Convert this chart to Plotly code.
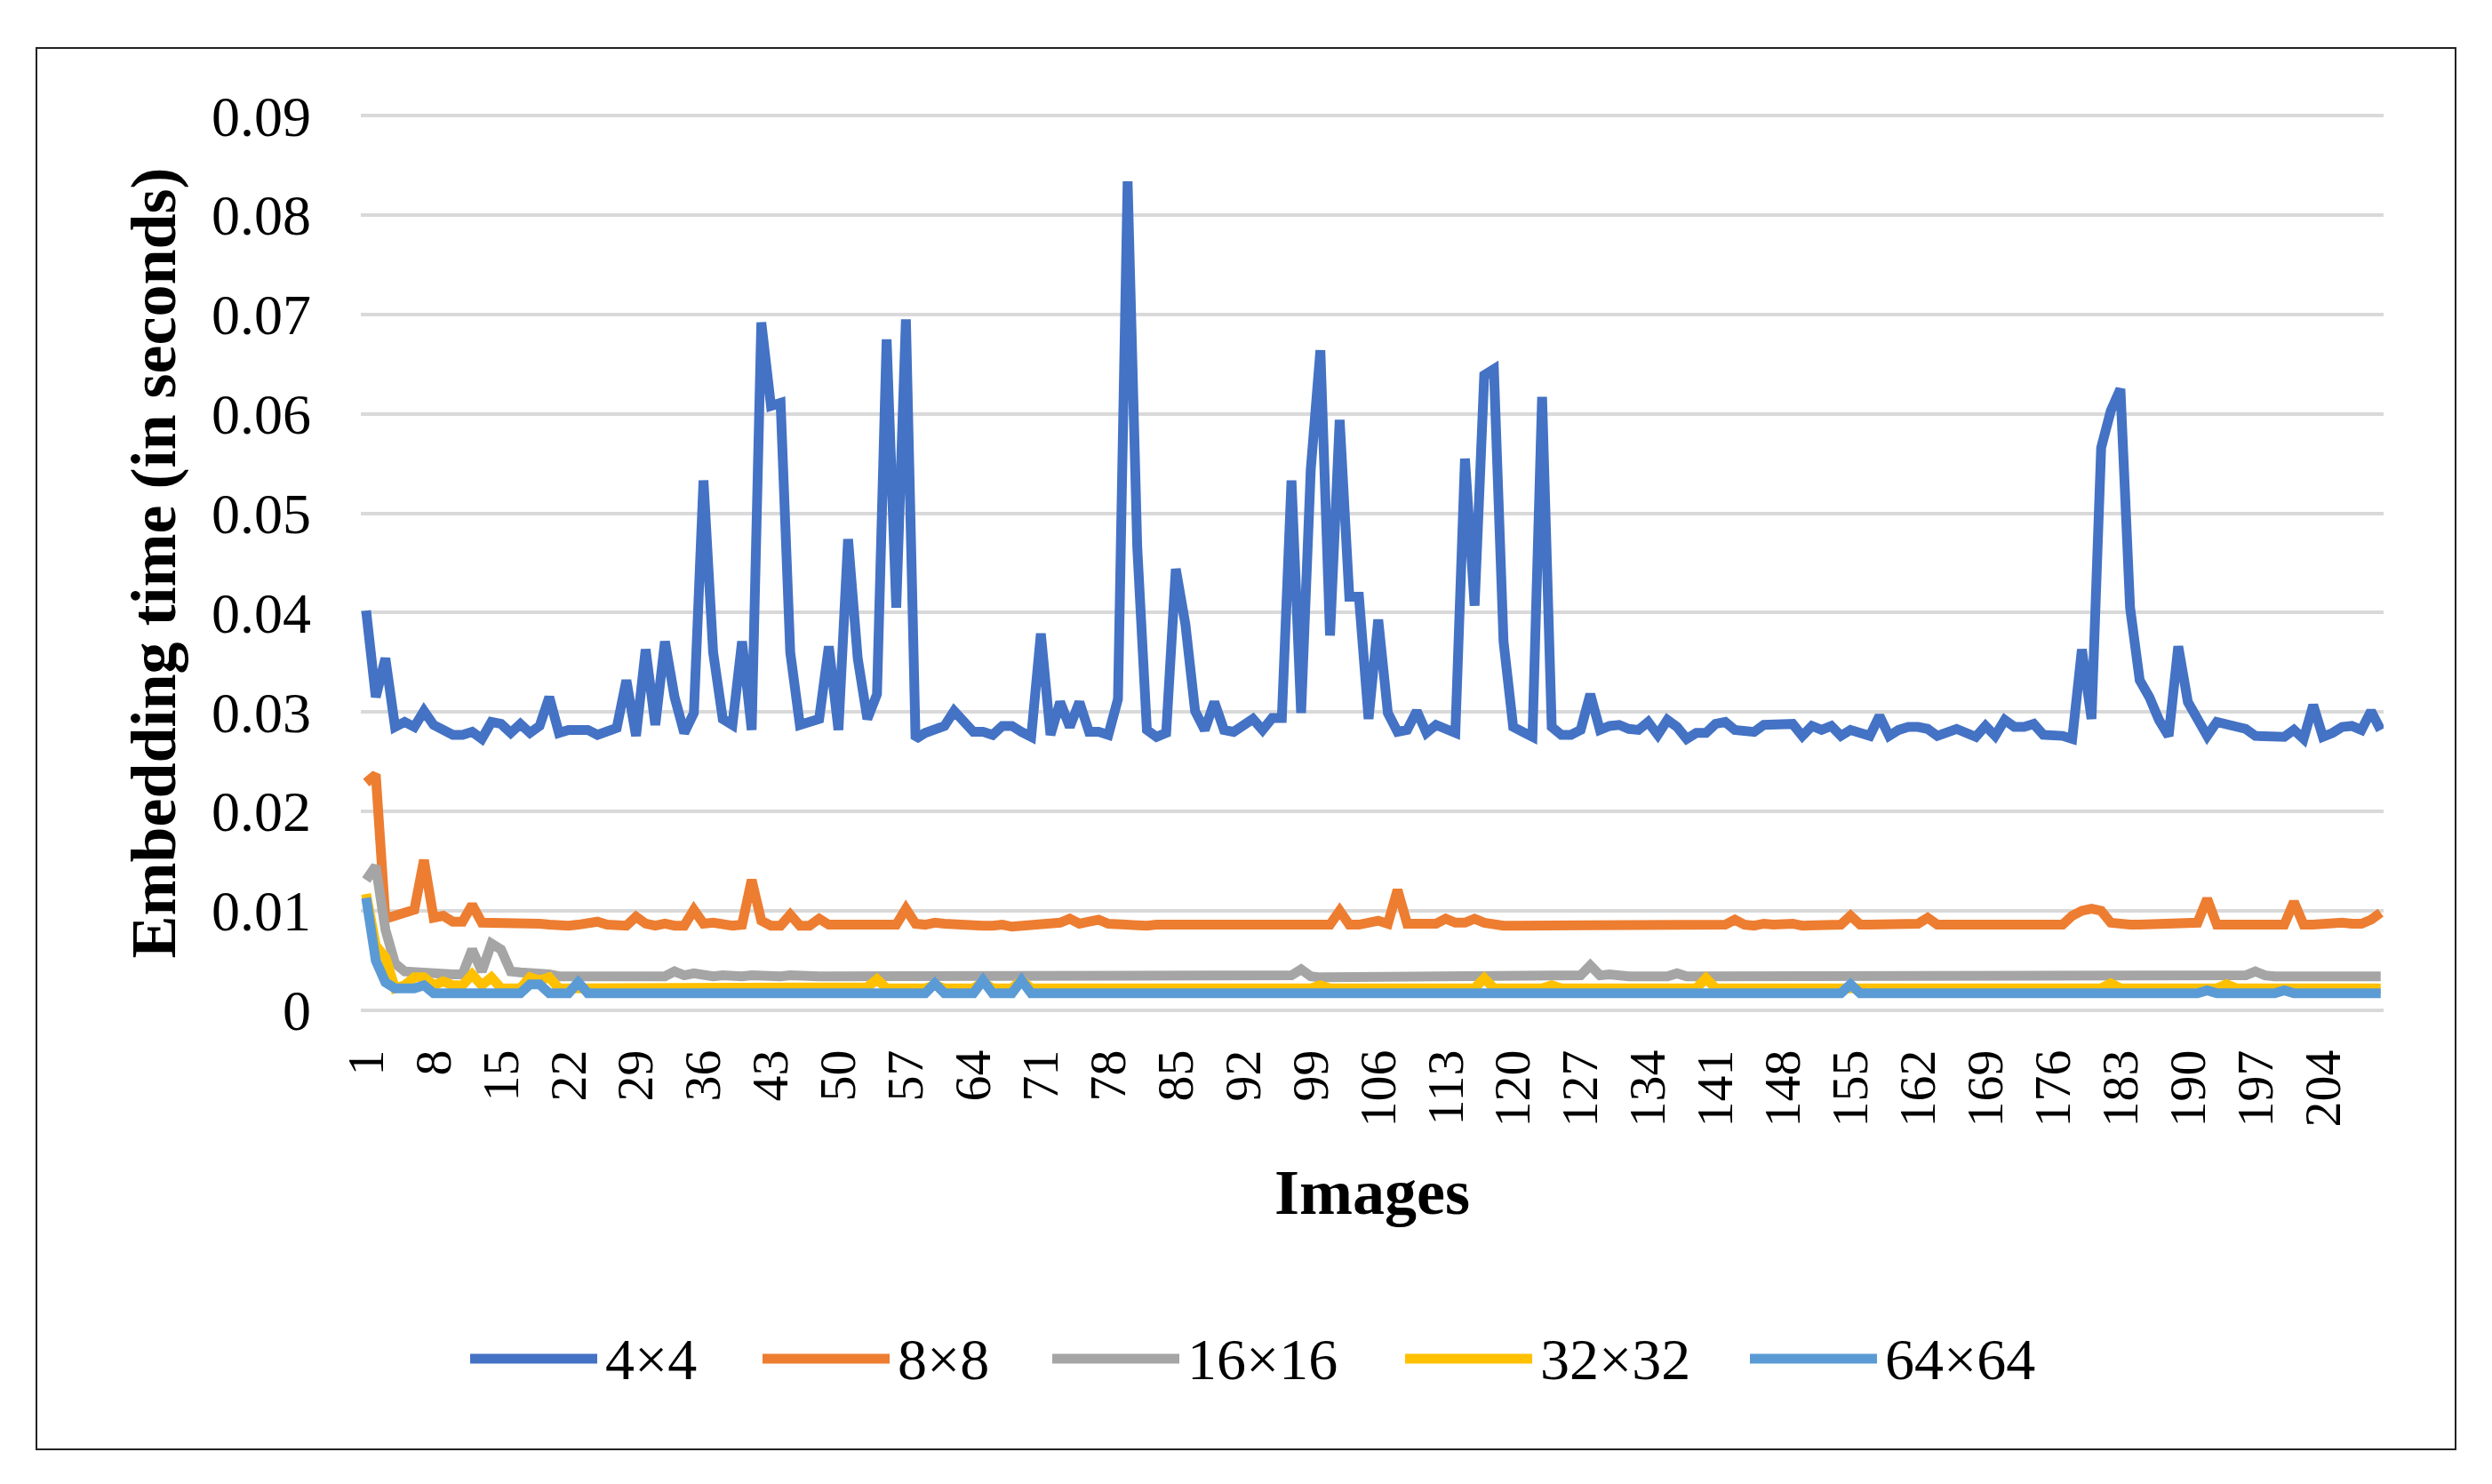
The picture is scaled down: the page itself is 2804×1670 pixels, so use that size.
import plotly.graph_objects as go

images = list(range(1, 211))
series_names = ["4×4", "8×8", "16×16", "32×32", "64×64"]
colors = ["#4472C4", "#ED7D31", "#A5A5A5", "#FFC000", "#5B9BD5"]

x_tick_labels = [1, 8, 15, 22, 29, 36, 43, 50, 57, 64, 71, 78, 85, 92, 99, 106, 113, 120, 127,
                 134, 141, 148, 155, 162, 169, 176, 183, 190, 197, 204]
y_tick_values = [0, 0.01, 0.02, 0.03, 0.04, 0.05, 0.06, 0.07, 0.08, 0.09]
y_tick_labels = ["0", "0.01", "0.02", "0.03", "0.04", "0.05", "0.06", "0.07", "0.08", "0.09"]

time_4x4 = [
    0.0402, 0.0315, 0.0354, 0.0285, 0.0290, 0.0285, 0.0301, 0.0287, 0.0282, 0.0277,
    0.0277, 0.0280, 0.0273, 0.0290, 0.0288, 0.0279, 0.0288, 0.0279, 0.0286, 0.0315,
    0.0279, 0.0282, 0.0282, 0.0282, 0.0277, 0.0280, 0.0284, 0.0332, 0.0276, 0.0363,
    0.0287, 0.0371, 0.0315, 0.0279, 0.0299, 0.0533, 0.0360, 0.0293, 0.0287, 0.0371,
    0.0282, 0.0692, 0.0608, 0.0611, 0.0360, 0.0287, 0.0290, 0.0293, 0.0366, 0.0282,
    0.0474, 0.0354, 0.0293, 0.0318, 0.0675, 0.0405, 0.0695, 0.0273, 0.0279, 0.0282,
    0.0286, 0.0301, 0.0290, 0.0280, 0.0280, 0.0277, 0.0286, 0.0286, 0.0280, 0.0275,
    0.0379, 0.0277, 0.0310, 0.0285, 0.0310, 0.0280, 0.0280, 0.0277, 0.0313, 0.0834,
    0.0466, 0.0282, 0.0275, 0.0279, 0.0444, 0.0388, 0.0301, 0.0282, 0.0310, 0.0282,
    0.0280, 0.0286, 0.0293, 0.0282, 0.0294, 0.0294, 0.0533, 0.0299, 0.0544, 0.0664,
    0.0377, 0.0594, 0.0416, 0.0416, 0.0293, 0.0393, 0.0299, 0.0280, 0.0282, 0.0301,
    0.0279, 0.0287, 0.0283, 0.0279, 0.0555, 0.0407, 0.0639, 0.0645, 0.0371, 0.0285,
    0.0280, 0.0275, 0.0617, 0.0285, 0.0277, 0.0277, 0.0282, 0.0318, 0.0282, 0.0286,
    0.0287, 0.0283, 0.0282, 0.0290, 0.0277, 0.0292, 0.0285, 0.0273, 0.0279, 0.0279,
    0.0288, 0.0290, 0.0282, 0.0280, 0.0280, 0.0287, 0.0288, 0.0288, 0.0288, 0.0276,
    0.0286, 0.0282, 0.0286, 0.0276, 0.0282, 0.0279, 0.0276, 0.0296, 0.0276, 0.0282,
    0.0285, 0.0285, 0.0283, 0.0276, 0.0280, 0.0283, 0.0279, 0.0275, 0.0286, 0.0276,
    0.0292, 0.0285, 0.0285, 0.0288, 0.0277, 0.0277, 0.0276, 0.0273, 0.0363, 0.0293,
    0.0566, 0.0603, 0.0625, 0.0405, 0.0332, 0.0315, 0.0292, 0.0276, 0.0366, 0.0310,
    0.0293, 0.0276, 0.0290, 0.0287, 0.0286, 0.0283, 0.0276, 0.0276, 0.0277, 0.0275,
    0.0282, 0.0273, 0.0307, 0.0275, 0.0279, 0.0285, 0.0286, 0.0282, 0.0301, 0.0282,
]

time_8x8 = [
    0.0229, 0.0237, 0.0092, 0.0095, 0.0098, 0.0101, 0.0151, 0.0093, 0.0095, 0.0089,
    0.0089, 0.0106, 0.0088, 0.0088, 0.0089, 0.0089, 0.0089, 0.0088, 0.0087, 0.0086,
    0.0085, 0.0085, 0.0086, 0.0087, 0.0089, 0.0086, 0.0085, 0.0085, 0.0094, 0.0087,
    0.0085, 0.0087, 0.0085, 0.0085, 0.0101, 0.0087, 0.0088, 0.0086, 0.0085, 0.0086,
    0.0131, 0.0090, 0.0085, 0.0085, 0.0096, 0.0085, 0.0085, 0.0092, 0.0086, 0.0086,
    0.0086, 0.0085, 0.0085, 0.0085, 0.0087, 0.0086, 0.0102, 0.0087, 0.0086, 0.0088,
    0.0087, 0.0086, 0.0085, 0.0085, 0.0085, 0.0085, 0.0086, 0.0084, 0.0085, 0.0086,
    0.0087, 0.0088, 0.0088, 0.0092, 0.0087, 0.0089, 0.0091, 0.0087, 0.0086, 0.0086,
    0.0086, 0.0085, 0.0086, 0.0086, 0.0086, 0.0085, 0.0087, 0.0087, 0.0086, 0.0085,
    0.0086, 0.0086, 0.0085, 0.0086, 0.0085, 0.0086, 0.0086, 0.0085, 0.0086, 0.0086,
    0.0086, 0.0100, 0.0086, 0.0086, 0.0087, 0.0090, 0.0087, 0.0121, 0.0087, 0.0087,
    0.0087, 0.0087, 0.0092, 0.0088, 0.0088, 0.0092, 0.0088, 0.0086, 0.0085, 0.0085,
    0.0085, 0.0086, 0.0085, 0.0085, 0.0085, 0.0085, 0.0085, 0.0085, 0.0085, 0.0085,
    0.0086, 0.0086, 0.0086, 0.0085, 0.0085, 0.0085, 0.0085, 0.0085, 0.0087, 0.0086,
    0.0085, 0.0086, 0.0091, 0.0086, 0.0085, 0.0087, 0.0086, 0.0087, 0.0087, 0.0085,
    0.0085, 0.0087, 0.0086, 0.0086, 0.0095, 0.0086, 0.0086, 0.0086, 0.0086, 0.0087,
    0.0087, 0.0087, 0.0093, 0.0086, 0.0086, 0.0086, 0.0086, 0.0086, 0.0086, 0.0085,
    0.0086, 0.0086, 0.0086, 0.0086, 0.0086, 0.0086, 0.0086, 0.0095, 0.0100, 0.0102,
    0.0100, 0.0088, 0.0086, 0.0086, 0.0086, 0.0086, 0.0086, 0.0086, 0.0086, 0.0087,
    0.0088, 0.0112, 0.0086, 0.0086, 0.0086, 0.0087, 0.0087, 0.0086, 0.0086, 0.0086,
    0.0109, 0.0086, 0.0086, 0.0087, 0.0087, 0.0088, 0.0087, 0.0087, 0.0091, 0.0098,
]

time_16x16 = [
    0.0131, 0.0145, 0.0081, 0.0047, 0.0039, 0.0038, 0.0037, 0.0037, 0.0037, 0.0036,
    0.0036, 0.0061, 0.0039, 0.0067, 0.0061, 0.0039, 0.0038, 0.0038, 0.0037, 0.0036,
    0.0034, 0.0034, 0.0034, 0.0034, 0.0033, 0.0034, 0.0034, 0.0034, 0.0034, 0.0034,
    0.0034, 0.0034, 0.0039, 0.0035, 0.0037, 0.0035, 0.0034, 0.0035, 0.0034, 0.0034,
    0.0035, 0.0034, 0.0034, 0.0034, 0.0035, 0.0034, 0.0035, 0.0034, 0.0034, 0.0034,
    0.0035, 0.0034, 0.0034, 0.0034, 0.0033, 0.0034, 0.0034, 0.0034, 0.0034, 0.0033,
    0.0034, 0.0034, 0.0034, 0.0035, 0.0034, 0.0033, 0.0034, 0.0034, 0.0033, 0.0034,
    0.0035, 0.0034, 0.0034, 0.0034, 0.0034, 0.0034, 0.0033, 0.0033, 0.0034, 0.0034,
    0.0034, 0.0034, 0.0034, 0.0035, 0.0035, 0.0034, 0.0034, 0.0034, 0.0034, 0.0034,
    0.0034, 0.0034, 0.0034, 0.0034, 0.0035, 0.0034, 0.0035, 0.0041, 0.0034, 0.0033,
    0.0033, 0.0033, 0.0034, 0.0034, 0.0034, 0.0034, 0.0034, 0.0034, 0.0034, 0.0034,
    0.0034, 0.0034, 0.0034, 0.0034, 0.0034, 0.0034, 0.0034, 0.0034, 0.0035, 0.0035,
    0.0035, 0.0035, 0.0034, 0.0034, 0.0035, 0.0034, 0.0035, 0.0045, 0.0035, 0.0036,
    0.0034, 0.0034, 0.0034, 0.0034, 0.0034, 0.0034, 0.0037, 0.0034, 0.0034, 0.0034,
    0.0034, 0.0034, 0.0034, 0.0036, 0.0035, 0.0034, 0.0034, 0.0034, 0.0034, 0.0034,
    0.0034, 0.0034, 0.0034, 0.0034, 0.0034, 0.0034, 0.0034, 0.0034, 0.0034, 0.0034,
    0.0034, 0.0034, 0.0034, 0.0034, 0.0034, 0.0034, 0.0034, 0.0034, 0.0034, 0.0034,
    0.0034, 0.0034, 0.0034, 0.0034, 0.0034, 0.0034, 0.0034, 0.0034, 0.0034, 0.0035,
    0.0034, 0.0034, 0.0034, 0.0034, 0.0034, 0.0034, 0.0034, 0.0034, 0.0034, 0.0034,
    0.0034, 0.0034, 0.0034, 0.0034, 0.0035, 0.0035, 0.0039, 0.0035, 0.0034, 0.0034,
    0.0034, 0.0034, 0.0034, 0.0034, 0.0034, 0.0034, 0.0034, 0.0034, 0.0034, 0.0034,
]

time_32x32 = [
    0.0117, 0.0065, 0.0053, 0.0022, 0.0025, 0.0033, 0.0033, 0.0025, 0.0029, 0.0025,
    0.0025, 0.0036, 0.0025, 0.0033, 0.0022, 0.0022, 0.0022, 0.0033, 0.0030, 0.0033,
    0.0022, 0.0022, 0.0022, 0.0022, 0.0022, 0.0022, 0.0022, 0.0022, 0.0022, 0.0022,
    0.0022, 0.0022, 0.0022, 0.0022, 0.0022, 0.0022, 0.0022, 0.0022, 0.0022, 0.0022,
    0.0022, 0.0022, 0.0022, 0.0022, 0.0022, 0.0022, 0.0022, 0.0022, 0.0022, 0.0022,
    0.0022, 0.0022, 0.0023, 0.0031, 0.0022, 0.0022, 0.0022, 0.0022, 0.0022, 0.0025,
    0.0022, 0.0022, 0.0022, 0.0022, 0.0028, 0.0022, 0.0022, 0.0022, 0.0030, 0.0022,
    0.0022, 0.0022, 0.0022, 0.0022, 0.0022, 0.0022, 0.0022, 0.0022, 0.0022, 0.0022,
    0.0022, 0.0022, 0.0022, 0.0022, 0.0022, 0.0022, 0.0022, 0.0022, 0.0022, 0.0022,
    0.0022, 0.0022, 0.0022, 0.0022, 0.0022, 0.0022, 0.0022, 0.0022, 0.0022, 0.0025,
    0.0022, 0.0022, 0.0022, 0.0022, 0.0022, 0.0022, 0.0022, 0.0022, 0.0022, 0.0022,
    0.0022, 0.0022, 0.0022, 0.0022, 0.0022, 0.0022, 0.0032, 0.0022, 0.0022, 0.0022,
    0.0022, 0.0022, 0.0022, 0.0025, 0.0022, 0.0022, 0.0022, 0.0022, 0.0022, 0.0022,
    0.0022, 0.0022, 0.0022, 0.0022, 0.0022, 0.0022, 0.0022, 0.0022, 0.0022, 0.0032,
    0.0022, 0.0022, 0.0022, 0.0022, 0.0022, 0.0022, 0.0022, 0.0022, 0.0022, 0.0022,
    0.0022, 0.0022, 0.0022, 0.0022, 0.0022, 0.0022, 0.0022, 0.0022, 0.0022, 0.0022,
    0.0022, 0.0022, 0.0022, 0.0022, 0.0022, 0.0022, 0.0022, 0.0022, 0.0022, 0.0022,
    0.0022, 0.0022, 0.0022, 0.0022, 0.0022, 0.0022, 0.0022, 0.0022, 0.0022, 0.0022,
    0.0022, 0.0027, 0.0022, 0.0022, 0.0022, 0.0022, 0.0022, 0.0022, 0.0022, 0.0022,
    0.0022, 0.0022, 0.0022, 0.0026, 0.0022, 0.0022, 0.0022, 0.0022, 0.0022, 0.0022,
    0.0022, 0.0022, 0.0022, 0.0022, 0.0022, 0.0022, 0.0022, 0.0022, 0.0022, 0.0022,
]

time_64x64 = [
    0.0113, 0.0050, 0.0028, 0.0022, 0.0022, 0.0022, 0.0025, 0.0017, 0.0017, 0.0017,
    0.0017, 0.0017, 0.0017, 0.0016, 0.0016, 0.0016, 0.0017, 0.0026, 0.0026, 0.0017,
    0.0017, 0.0017, 0.0028, 0.0017, 0.0017, 0.0017, 0.0017, 0.0017, 0.0017, 0.0017,
    0.0017, 0.0017, 0.0017, 0.0017, 0.0017, 0.0017, 0.0017, 0.0017, 0.0017, 0.0017,
    0.0017, 0.0017, 0.0017, 0.0017, 0.0017, 0.0017, 0.0017, 0.0017, 0.0017, 0.0017,
    0.0017, 0.0017, 0.0017, 0.0017, 0.0017, 0.0017, 0.0017, 0.0017, 0.0017, 0.0027,
    0.0017, 0.0017, 0.0017, 0.0017, 0.0030, 0.0017, 0.0017, 0.0017, 0.0030, 0.0017,
    0.0017, 0.0017, 0.0017, 0.0017, 0.0017, 0.0017, 0.0017, 0.0017, 0.0017, 0.0017,
    0.0017, 0.0017, 0.0017, 0.0017, 0.0017, 0.0017, 0.0017, 0.0017, 0.0017, 0.0017,
    0.0017, 0.0017, 0.0017, 0.0017, 0.0017, 0.0017, 0.0017, 0.0017, 0.0017, 0.0017,
    0.0017, 0.0017, 0.0017, 0.0017, 0.0017, 0.0017, 0.0017, 0.0017, 0.0017, 0.0017,
    0.0017, 0.0017, 0.0017, 0.0017, 0.0017, 0.0017, 0.0017, 0.0017, 0.0017, 0.0017,
    0.0017, 0.0017, 0.0017, 0.0017, 0.0017, 0.0017, 0.0017, 0.0017, 0.0017, 0.0017,
    0.0017, 0.0017, 0.0017, 0.0017, 0.0017, 0.0017, 0.0017, 0.0017, 0.0017, 0.0017,
    0.0017, 0.0017, 0.0017, 0.0017, 0.0017, 0.0017, 0.0017, 0.0017, 0.0017, 0.0017,
    0.0017, 0.0017, 0.0017, 0.0017, 0.0026, 0.0017, 0.0017, 0.0017, 0.0017, 0.0017,
    0.0017, 0.0017, 0.0017, 0.0017, 0.0017, 0.0017, 0.0017, 0.0017, 0.0017, 0.0017,
    0.0017, 0.0017, 0.0017, 0.0017, 0.0017, 0.0017, 0.0017, 0.0017, 0.0017, 0.0017,
    0.0017, 0.0017, 0.0017, 0.0017, 0.0017, 0.0017, 0.0017, 0.0017, 0.0017, 0.0017,
    0.0017, 0.0020, 0.0017, 0.0017, 0.0017, 0.0017, 0.0017, 0.0017, 0.0017, 0.0020,
    0.0017, 0.0017, 0.0017, 0.0017, 0.0017, 0.0017, 0.0017, 0.0017, 0.0017, 0.0017,
]

all_series = [time_4x4, time_8x8, time_16x16, time_32x32, time_64x64]

# the page body has an 8px margin, so the figure is sized and laid out in its own coordinates
W, H = 2796, 1662
L, R, T, B = 398, 122, 120, 531
PW, PH = W - L - R, H - T - B
FONT = "Liberation Serif"
LINE_W = 11


def px(x):
    return (x - L) / PW


def py(y):
    return (H - B - y) / PH


fig = go.Figure()
for name, vals, color in zip(series_names, all_series, colors):
    fig.add_trace(go.Scatter(x=images, y=vals, mode="lines", name=name, showlegend=False,
                             line=dict(color=color, width=LINE_W)))

# legend drawn by hand so the line samples are as long as in the original
legend_line_x = [521, 850, 1176, 1573, 1961]
legend_y = 1521
shapes = []
annotations = []
for name, color, lx in zip(series_names, colors, legend_line_x):
    shapes.append(dict(type="line", xref="paper", yref="paper", x0=px(lx), x1=px(lx + 143),
                       y0=py(legend_y), y1=py(legend_y), line=dict(color=color, width=LINE_W)))
    annotations.append(dict(text=name, xref="paper", yref="paper", x=px(lx + 150), y=py(legend_y),
                            xanchor="left", yanchor="middle", showarrow=False,
                            font=dict(family=FONT, size=66, color="black")))

# outer chart border
shapes.append(dict(type="rect", xref="paper", yref="paper", x0=px(33), x1=px(2755),
                   y0=py(1623), y1=py(46), line=dict(color="#222222", width=2)))

fig.update_layout(
    width=W, height=H,
    margin=dict(l=L, r=R, t=T, b=B),
    paper_bgcolor="white", plot_bgcolor="white",
    font=dict(family=FONT, color="black"),
    shapes=shapes, annotations=annotations,
    xaxis=dict(range=[0.45, 210.3], tickmode="array", tickvals=x_tick_labels,
               ticktext=[str(v) for v in x_tick_labels], tickangle=-90,
               tickfont=dict(size=58), ticklabelstandoff=30,
               showgrid=False, zeroline=False, showline=False, automargin=False,
               title=dict(text="<b>Images</b>", font=dict(size=72), standoff=48)),
    yaxis=dict(range=[-0.0002, 0.0902], tickmode="array", tickvals=y_tick_values,
               ticktext=y_tick_labels, tickfont=dict(size=64), ticklabelstandoff=55,
               showgrid=True, gridcolor="#D9D9D9", gridwidth=4,
               zeroline=True, zerolinecolor="#D9D9D9", zerolinewidth=4,
               showline=False, automargin=False,
               title=dict(text="<b>Embedding time (in seconds)</b>", font=dict(size=72), standoff=16)),
)

fig.write_html("out.html")
